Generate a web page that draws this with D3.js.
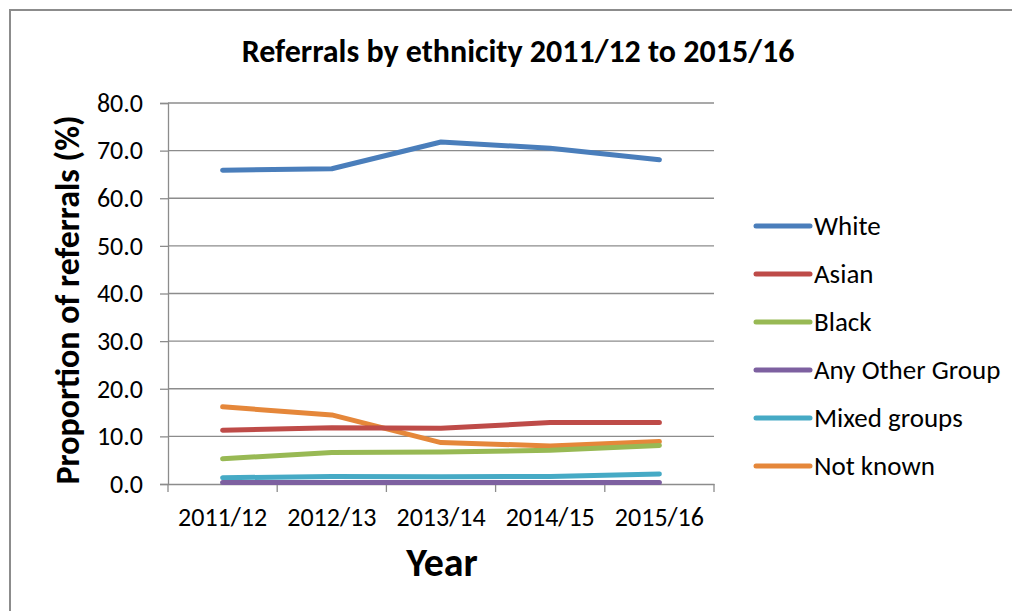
<!DOCTYPE html>
<html>
<head>
<meta charset="utf-8">
<script src="https://cdn.jsdelivr.net/npm/d3@7"></script>
<style>
  html, body { margin: 0; padding: 0; background: #fff; }
  svg { display: block; }
  text { font-family: Carlito, "Open Sans", "Noto Sans", sans-serif; fill: #000; }
</style>
</head>
<body>
<svg id="chart" width="1012" height="611"></svg>
<script>
// Referral proportions (%) by ethnic group and year
const years = ["2011/12", "2012/13", "2013/14", "2014/15", "2015/16"];
const white    = [65.9, 66.2, 71.8, 70.5, 68.1];
const asian    = [11.3, 11.8, 11.7, 12.9, 12.9];
const black    = [5.3, 6.6, 6.7, 7.1, 8.1];
const anyOther = [0.3, 0.3, 0.3, 0.3, 0.3];
const mixed    = [1.3, 1.6, 1.5, 1.6, 2.1];
const notKnown = [16.2, 14.5, 8.7, 8.0, 8.9];
const yTicks   = [0, 10, 20, 30, 40, 50, 60, 70, 80];

const series = [
  { name: "White",           values: white,    color: "#4A7EBB" },
  { name: "Asian",           values: asian,    color: "#BE4B48" },
  { name: "Black",           values: black,    color: "#98B954" },
  { name: "Any Other Group", values: anyOther, color: "#7D60A0" },
  { name: "Mixed groups",    values: mixed,    color: "#46AAC5" },
  { name: "Not known",       values: notKnown, color: "#E5873A" }
];

const svg = d3.select("#chart");

// outer chart frame
svg.append("rect")
  .attr("x", 10).attr("y", 10)
  .attr("width", 1100).attr("height", 700)
  .attr("fill", "none").attr("stroke", "#8c8c8c").attr("stroke-width", 2);

const plot = { left: 168, right: 714, top: 103, bottom: 484 };

const x = d3.scaleBand().domain(years).range([plot.left, plot.right]);
const y = d3.scaleLinear().domain([0, 80]).range([plot.bottom, plot.top]);

// horizontal gridlines
svg.append("g")
  .selectAll("line")
  .data(yTicks.filter(t => t > 0))
  .join("line")
  .attr("x1", plot.left).attr("x2", plot.right)
  .attr("y1", d => y(d)).attr("y2", d => y(d))
  .attr("stroke", "#8c8c8c").attr("stroke-width", 1.3);

// y axis
const yAxis = svg.append("g")
  .attr("transform", `translate(${plot.left},0)`)
  .call(d3.axisLeft(y).tickValues(yTicks).tickFormat(d3.format(".1f")).tickSize(8).tickPadding(17));
yAxis.select(".domain").attr("stroke", "#8c8c8c").attr("stroke-width", 1.3);
yAxis.selectAll(".tick line").attr("stroke", "#8c8c8c").attr("stroke-width", 1.3);
yAxis.selectAll(".tick text").style("font-size", "26px").attr("fill", "#000");

// x axis with tick marks on category boundaries
const xAxis = svg.append("g")
  .attr("transform", `translate(0,${plot.bottom})`)
  .call(d3.axisBottom(x).tickSize(0).tickPadding(24));
xAxis.select(".domain").attr("stroke", "#8c8c8c").attr("stroke-width", 1.3);
xAxis.selectAll(".tick text").style("font-size", "26px").attr("fill", "#000");
xAxis.selectAll("line.bound")
  .data(years.map(d => x(d)).concat([x(years[years.length - 1]) + x.bandwidth()]))
  .join("line")
  .attr("class", "bound")
  .attr("x1", d => d).attr("x2", d => d)
  .attr("y1", 0).attr("y2", 8)
  .attr("stroke", "#8c8c8c").attr("stroke-width", 1.3);

// series lines
const line = d3.line()
  .x((d, i) => x(years[i]) + x.bandwidth() / 2)
  .y(d => y(d));

svg.append("g")
  .selectAll("path")
  .data(series.slice().reverse())
  .join("path")
  .attr("d", d => line(d.values))
  .attr("fill", "none")
  .attr("stroke", d => d.color)
  .attr("stroke-width", 5)
  .attr("stroke-linecap", "round")
  .attr("stroke-linejoin", "round");

// title
svg.append("text")
  .attr("x", 518).attr("y", 62)
  .attr("text-anchor", "middle")
  .style("font-size", "32px").style("font-weight", "bold")
  .text("Referrals by ethnicity 2011/12 to 2015/16");

// axis titles
svg.append("text")
  .attr("transform", "translate(79,300) rotate(-90)")
  .attr("text-anchor", "middle")
  .style("font-size", "34px").style("font-weight", "bold")
  .text("Proportion of referrals (%)");

svg.append("text")
  .attr("x", 442).attr("y", 576)
  .attr("text-anchor", "middle")
  .style("font-size", "40px").style("font-weight", "bold")
  .text("Year");

// legend
const legend = svg.append("g")
  .selectAll("g")
  .data(series)
  .join("g")
  .attr("transform", (d, i) => `translate(756,${226 + i * 48})`);
legend.append("line")
  .attr("x1", 0).attr("x2", 54)
  .attr("stroke", d => d.color).attr("stroke-width", 5)
  .attr("stroke-linecap", "round");
legend.append("text")
  .attr("x", 58).attr("dy", "0.35em")
  .style("font-size", "27px")
  .text(d => d.name);
</script>
</body>
</html>
